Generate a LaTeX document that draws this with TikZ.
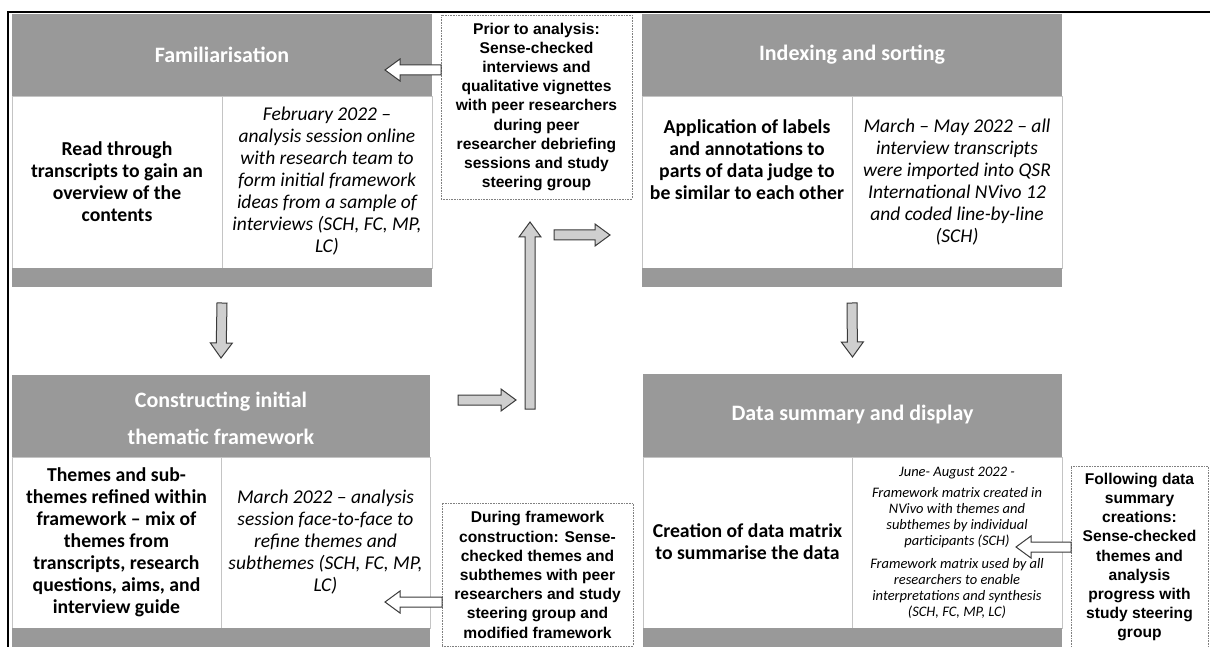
\documentclass[tikz,border=0pt]{standalone}
\usepackage{fontspec}
\setmainfont{Carlito}
\newfontfamily\arialfont{Liberation Sans}
\usetikzlibrary{calc}
\definecolor{hdrgray}{HTML}{999999}
\definecolor{cellline}{HTML}{C4C4C4}
\definecolor{arrgray}{HTML}{CFCFCF}
\definecolor{arrline}{HTML}{3A3A3A}
\definecolor{dotline}{HTML}{808080}
\newcommand\blockarrow[3]{%
  \path (#2); \pgfgetlastxy{\BAxa}{\BAya}%
  \path (#3); \pgfgetlastxy{\BAxb}{\BAyb}%
  \pgfmathsetmacro\BAlen{veclen(\BAxb-\BAxa,\BAyb-\BAya)}%
  \pgfmathsetmacro\BAang{atan2(\BAyb-\BAya,\BAxb-\BAxa)}%
  \draw[#1,shift={(#2)},rotate=\BAang] (0,-5) -- (\BAlen-15,-5) -- (\BAlen-15,-11) -- (\BAlen,0) -- (\BAlen-15,11) -- (\BAlen-15,5) -- (0,5) -- cycle;%
}
\tikzset{
  hdr/.style={fill=hdrgray, draw=none, inner sep=0pt, outer sep=0pt},
  cell/.style={fill=white, draw=cellline, line width=1pt, inner sep=0pt, outer sep=0pt},
  hdrtext/.style={text=white, font=\fontsize{22}{26}\selectfont\bfseries, align=center, inner sep=0pt},
  btext/.style={font=\fontsize{19.7}{22}\selectfont\bfseries, align=center, inner sep=0pt},
  itext/.style={font=\fontsize{19.5}{22}\selectfont\itshape, align=center, inner sep=0pt},
  stext/.style={font=\fontsize{14.5}{16}\selectfont\itshape, align=center, inner sep=0pt},
  notebox/.style={draw=dotline, densely dotted, line width=0.6pt, fill=white, inner sep=0pt, outer sep=0pt},
  notetext/.style={font=\arialfont\bfseries\fontsize{15.6}{19.2}\selectfont, align=center, inner sep=0pt},
  whitearr/.style={draw=arrline, fill=white, line width=1pt, line join=miter},
  grayarr/.style={draw=arrline, fill=arrgray, line width=1pt, line join=miter},
}
\begin{document}
\begin{tikzpicture}[x=1pt,y=-1pt]
\useasboundingbox (0,0) rectangle (1210,647);
\clip (0,0) rectangle (1210,647);
\fill[white] (0,0) rectangle (1210,647);
% outer frame
\draw[line width=2pt, black] (8,650) -- (8,12) -- (1212,12);

% ---------- Familiarisation ----------
\node[hdr, minimum width=420, minimum height=83] (tlh) at (222,55.5) {};
\node[cell, minimum width=210, minimum height=171] (tll) at (117,182.5) {};
\node[cell, minimum width=210, minimum height=171] (tlr) at (327,182.5) {};
\node[hdr, minimum width=420, minimum height=19] (tls) at (222,277.5) {};
\node[hdrtext] (tlht) at (222,55) {Familiarisation};
\node[btext] (tllt) at (117,182) {Read through\\transcripts to gain an\\overview of the\\contents};
\node[itext] (tlrt) at (327,181) {February 2022 --\\analysis session online\\with research team to\\form initial framework\\ideas from a sample of\\interviews (SCH, FC, MP,\\LC)};

% ---------- Indexing and sorting ----------
\node[hdr, minimum width=420, minimum height=83] (trh) at (852,55.5) {};
\node[cell, minimum width=210, minimum height=171] (trl) at (747,182.5) {};
\node[cell, minimum width=210, minimum height=171] (trr) at (957,182.5) {};
\node[hdr, minimum width=420, minimum height=19] (trs) at (852,277.5) {};
\node[hdrtext] (trht) at (852,55) {Indexing and sorting};
\node[btext] (trlt) at (747,160) {Application of labels\\and annotations to\\parts of data judge to\\be similar to each other};
\node[itext] (trrt) at (957,182) {March -- May 2022 -- all\\interview transcripts\\were imported into QSR\\International NVivo 12\\and coded line-by-line\\(SCH)};

% ---------- Constructing initial thematic framework ----------
\node[hdr, minimum width=418, minimum height=82] (blh) at (221,416) {};
\node[cell, minimum width=209, minimum height=171] (bll) at (116.5,542.5) {};
\node[cell, minimum width=209, minimum height=171] (blr) at (325.5,542.5) {};
\node[hdr, minimum width=418, minimum height=22] (bls) at (221,639) {};
\node[hdrtext, font=\fontsize{22}{37}\selectfont\bfseries] (blht) at (221,418) {Constructing initial\\thematic framework};
\node[btext] (bllt) at (116.5,542) {Themes and sub-\\themes refined within\\framework -- mix of\\themes from\\transcripts, research\\questions, aims, and\\interview guide};
\node[itext] (blrt) at (325.5,542) {March 2022 -- analysis\\session face-to-face to\\refine themes and\\subthemes (SCH, FC, MP,\\LC)};

% ---------- Data summary and display ----------
\node[hdr, minimum width=419, minimum height=83] (brh) at (852.5,415.5) {};
\node[cell, minimum width=209, minimum height=171] (brl) at (747.5,542.5) {};
\node[cell, minimum width=210, minimum height=171] (brr) at (957,542.5) {};
\node[hdr, minimum width=419, minimum height=22] (brs) at (852.5,639) {};
\node[hdrtext] (brht) at (852.5,415) {Data summary and display};
\node[btext] (brlt) at (747.5,542) {Creation of data matrix\\to summarise the data};
\node[stext] (brrt1) at (957,473) {June- August 2022 -};
\node[stext] (brrt2) at (957,518) {Framework matrix created in\\NVivo with themes and\\subthemes by individual\\participants (SCH)};
\node[stext] (brrt3) at (957,588) {Framework matrix used by all\\researchers to enable\\interpretations and synthesis\\(SCH, FC, MP, LC)};

% ---------- notes ----------
\node[notebox, minimum width=191, minimum height=184] (topnote) at (536.5,107) {};
\node[notetext] (topnotet) at (536.5,107) {Prior to analysis:\\Sense-checked\\interviews and\\qualitative vignettes\\with peer researchers\\during peer\\researcher debriefing\\sessions and study\\steering group};
\node[notebox, minimum width=191, minimum height=143] (botnote) at (537.5,574.5) {};
\node[notetext] (botnotet) at (537.5,575) {During framework\\construction: Sense-\\checked themes and\\subthemes with peer\\researchers and study\\steering group and\\modified framework};
\node[notebox, minimum width=137, minimum height=186] (rnote) at (1139.5,559) {};
\node[notetext] (rnotet) at (1139.5,557) {Following data\\summary\\creations:\\Sense-checked\\themes and\\analysis\\progress with\\study steering\\group};

% ---------- arrows ----------
\coordinate (t1) at (385,70);
\coordinate (s1) at (topnote.west |- t1);
\blockarrow{whitearr}{s1}{t1}
\coordinate (t2) at (385,602);
\coordinate (s2) at (botnote.west |- t2);
\blockarrow{whitearr}{s2}{t2}
\coordinate (t3) at (1016,547);
\coordinate (s3) at (rnote.west |- t3);
\blockarrow{whitearr}{s3}{t3}

\coordinate (g1s) at ($(tls.south)+(0,16)$);
\coordinate (g1e) at ($(blh.north)+(0,-17)$);
\blockarrow{grayarr}{g1s}{g1e}
\coordinate (g2s) at ($(trs.south)+(0,16)$);
\coordinate (g2e) at ($(brh.north)+(0,-17)$);
\blockarrow{grayarr}{g2s}{g2e}
\coordinate (g3s) at (458,400);
\coordinate (g3e) at (516,400);
\blockarrow{grayarr}{g3s}{g3e}
\coordinate (g4s) at (530,409);
\coordinate (g4e) at (530,222);
\blockarrow{grayarr}{g4s}{g4e}
\coordinate (g5s) at (554,235);
\coordinate (g5e) at (610,235);
\blockarrow{grayarr}{g5s}{g5e}
\end{tikzpicture}
\end{document}
